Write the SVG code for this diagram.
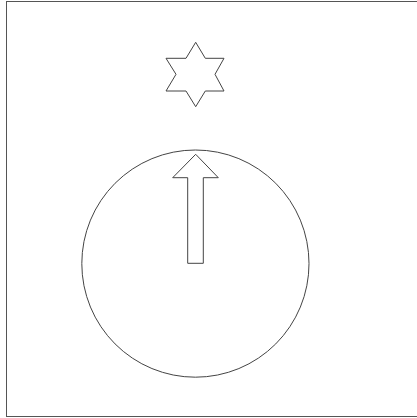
<svg xmlns="http://www.w3.org/2000/svg" width="417" height="418" viewBox="0 0 417 418">
<style>
.s{fill:#fff;stroke:#444;stroke-width:1}
</style>
<rect x="0" y="0" width="417" height="418" fill="#fff"/>
<g id="frame"><rect x="6.5" y="1.5" width="420" height="415" fill="none" stroke="#555" stroke-width="1"/></g>
<g id="dial"><circle class="s" cx="195.4" cy="263.6" r="113.6"/></g>
<g id="star"><polygon class="s" points="195.7,42.3 205.3,58.3 224,58.3 215,74.3 224,91 205.3,91 195.7,106.7 186,91 166,91 176,74.3 166,58.3 186,58.3"/></g>
<g id="arrow"><polygon class="s" points="195.7,154.3 218.3,177.7 203.3,177.7 203.3,263.3 187.7,263.3 187.7,177.7 172.7,177.7"/></g>
<g id="connectors"></g>
</svg>
